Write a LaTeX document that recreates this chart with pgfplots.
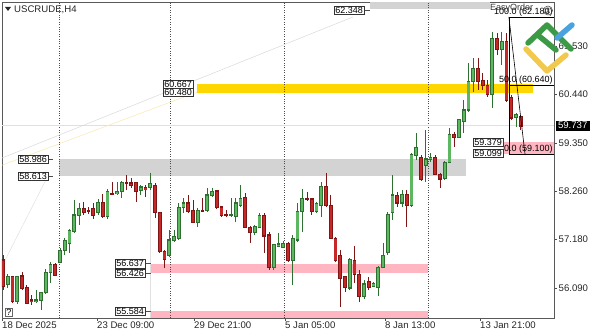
\documentclass[border=0pt]{standalone}
\usepackage{pgfplots}
\pgfplotsset{compat=1.18}
\usepackage{pgfplotstable}
\usepackage{fontspec}
\setmainfont{Liberation Sans}
\newcommand\lf{\fontsize{9}{10.5}\selectfont}
\newcommand\tf{\fontsize{9.6}{11}\selectfont}
\definecolor{gfill}{HTML}{5DB760}
\definecolor{gedge}{HTML}{2E7030}
\definecolor{rfill}{HTML}{C62828}
\definecolor{redge}{HTML}{7F1515}
\definecolor{bandgrey}{HTML}{D3D3D3}
\definecolor{gold}{HTML}{FFD700}
\definecolor{pinkb}{HTML}{FFB6C1}
\definecolor{logogreen}{HTML}{3C9A47}
\definecolor{logoyellow}{HTML}{F2C94C}
\definecolor{logoblue}{HTML}{4AA3DF}

\pgfplotstableread{
i o h l c
2 56.16 56.40 56.09 56.34
4 55.78 56.36 55.73 56.34
8 55.78 56.05 55.75 55.82
9 55.82 56.00 55.60 55.98
10 55.98 56.52 55.95 56.43
11 56.43 56.67 56.20 56.61
13 56.67 56.99 56.65 56.94
14 56.94 57.21 56.83 57.15
15 57.10 57.42 56.88 57.39
16 57.35 58.07 57.33 57.73
17 57.71 58.00 57.51 57.87
21 57.78 58.09 57.73 58.02
23 57.69 58.31 57.64 58.25
25 58.22 58.47 58.18 58.25
26 58.25 58.49 58.11 58.45
30 58.29 58.40 58.18 58.36
32 58.34 58.67 58.29 58.43
36 56.83 57.39 56.79 57.17
37 57.15 57.39 57.12 57.24
38 57.21 58.00 57.17 57.89
39 57.89 58.11 57.78 58.00
42 57.57 57.89 57.46 57.84
44 57.84 58.34 57.80 58.18
45 58.16 58.34 58.13 58.25
49 57.71 58.11 57.69 57.73
50 57.69 58.11 57.57 58.00
51 57.95 58.40 57.91 58.11
54 57.33 57.51 57.28 57.48
55 57.46 57.78 57.46 57.73
58 56.56 57.08 56.49 57.06
59 57.03 57.33 57.01 57.08
60 57.01 57.15 56.99 57.10
62 56.70 57.28 56.16 57.21
63 57.17 58.00 57.12 57.80
64 57.80 58.31 57.35 58.11
67 57.80 58.02 57.78 57.98
68 57.95 58.47 57.69 58.38
74 56.09 56.76 56.05 56.74
77 55.89 56.27 55.84 56.18
79 56.13 56.23 56.11 56.20
80 56.11 56.58 55.91 56.56
81 56.56 57.10 56.54 56.83
82 56.88 57.80 56.83 57.75
83 57.78 58.63 57.62 58.18
85 58.00 58.29 57.91 58.20
87 57.95 59.12 57.91 59.08
88 59.06 59.57 58.97 59.24
90 58.85 59.64 58.47 58.99
91 58.99 59.12 58.92 59.03
94 58.54 58.94 58.52 58.92
95 58.92 59.69 58.90 59.53
97 59.48 59.89 59.46 59.87
98 59.84 60.31 59.57 60.09
99 60.09 61.15 60.04 60.72
100 60.72 61.26 60.49 61.03
104 60.43 61.84 60.13 61.69
106 61.46 61.84 61.10 61.62
109 59.93 60.02 59.71 59.98
}\greentab

\pgfplotstableread{
i o h l c
1 56.72 56.83 56.05 56.13
3 56.34 56.36 55.75 55.78
5 56.36 56.45 56.05 56.07
6 56.11 56.16 55.73 55.75
7 55.82 55.93 55.71 55.78
12 56.61 56.65 56.36 56.38
18 57.87 58.02 57.73 57.78
19 57.84 57.91 57.75 57.82
20 57.87 58.00 57.64 57.73
22 58.02 58.20 57.66 57.69
24 58.22 58.47 58.18 58.20
27 58.45 58.63 58.29 58.43
28 58.45 58.56 58.34 58.40
29 58.45 58.47 58.02 58.25
31 58.34 58.40 58.13 58.31
33 58.40 58.45 57.66 57.78
34 57.78 57.80 56.88 56.90
35 56.90 56.94 56.54 56.72
40 58.00 58.18 57.78 57.80
41 57.84 58.07 57.55 57.57
43 57.84 58.11 57.80 57.82
46 58.27 58.29 57.87 57.89
47 57.91 57.93 57.69 57.71
48 57.73 57.84 57.69 57.71
52 58.13 58.22 57.44 57.44
53 57.46 57.48 57.10 57.33
56 57.71 57.78 56.88 57.26
57 57.28 57.35 56.49 56.56
61 57.10 57.12 56.67 56.70
65 58.11 58.25 58.04 58.09
66 58.09 58.11 57.73 57.80
69 58.38 58.67 57.91 57.95
70 57.95 58.18 57.21 57.21
71 57.21 57.24 56.67 56.70
72 56.81 56.94 55.66 56.31
73 56.34 56.36 56.00 56.11
75 56.70 57.03 56.20 56.40
76 56.40 56.49 55.78 55.89
78 56.23 56.34 56.05 56.11
84 58.16 58.25 57.91 58.00
86 58.20 58.29 57.46 57.95
89 59.03 59.08 58.49 58.52
92 59.03 59.08 58.63 58.65
93 58.65 58.67 58.34 58.54
96 59.53 59.60 59.26 59.48
101 61.03 61.26 60.54 60.72
102 60.76 60.92 60.54 60.63
103 60.65 60.76 60.38 60.43
105 61.69 61.82 61.33 61.46
107 61.62 61.82 60.27 60.31
108 60.36 60.43 59.87 59.91
110 59.95 59.98 59.64 59.73
}\redtab

\pgfplotsset{
  candle/.style 2 args={draw=none, mark=none, forget plot,
    error bars/.cd, y dir=both, y explicit, error mark=none,
    error bar style={line width=#1, draw=#2, solid, line cap=butt}},
}
\tikzset{lbl/.style={draw=black!80, fill=white, line width=0.4pt, inner sep=1pt, font=\lf}}

\begin{document}
\begin{tikzpicture}
\begin{axis}[
  name=ax,
  scale only axis, width=552pt, height=316pt,
  xmin=0.79, xmax=117, ymin=55.416, ymax=62.516,
  clip mode=individual,
  axis line style={draw=black!65, line width=0.5pt},
  xtick={0.79,20.79,41.21,60.37,81.42,101.42},
  xticklabels={18 Dec 2025,23 Dec 09:00,29 Dec 21:00,5 Jan 05:00,8 Jan 13:00,13 Jan 21:00},
  ytick={56.09,57.18,58.26,59.35,60.44,61.53},
  yticklabels={56.090,57.180,58.260,59.350,60.440,61.530},
  xtick pos=bottom, ytick pos=right, yticklabel pos=right,
  tick align=outside, major tick length=3pt,
  tick style={black!70, line width=0.5pt},
  xticklabel style={anchor=north west, inner sep=0pt, yshift=-1pt, font=\tf, text=black!85},
  yticklabel style={anchor=west, inner sep=0pt, xshift=1.5pt, font=\tf, text=black!85},
]
% zones
\fill[bandgrey] (axis cs:78.26,62.348) rectangle (axis cs:103.5,62.516);
\fill[gold] (axis cs:41.84,60.480) rectangle (axis cs:112.6,60.667);
\fill[bandgrey] (axis cs:12.79,58.613) rectangle (axis cs:98.47,58.986);
\fill[pinkb] (axis cs:32.1,56.426) rectangle (axis cs:90.4,56.637);
\fill[pinkb] (axis cs:32.1,55.416) rectangle (axis cs:90.4,55.584);
\fill[pinkb] (axis cs:106.3,59.099) rectangle (axis cs:117,59.379);
% separators and faint lines
\draw[black!70, line width=0.5pt, dash pattern=on 1pt off 1.4pt] (axis cs:12.79,55.416) -- (axis cs:12.79,62.516);
\draw[black!70, line width=0.5pt, dash pattern=on 1pt off 1.4pt] (axis cs:36.16,55.416) -- (axis cs:36.16,62.516);
\draw[black!70, line width=0.5pt, dash pattern=on 1pt off 1.4pt] (axis cs:60.16,55.416) -- (axis cs:60.16,62.516);
\draw[black!70, line width=0.5pt, dash pattern=on 1pt off 1.4pt] (axis cs:90.47,55.416) -- (axis cs:90.47,62.516);
\draw[black!12, line width=0.6pt] (axis cs:0.79,59.737) -- (axis cs:117,59.737);
\draw[black!15, line width=0.5pt] (axis cs:0.79,59.01) -- (axis cs:74.68,62.18);
\draw[logoyellow!45, line width=0.5pt] (axis cs:0.79,58.85) -- (axis cs:41.84,60.49);
\draw[black!12, line width=0.5pt] (axis cs:0.79,56.58) -- (axis cs:10.47,58.61);
\draw[black!12, line width=0.5pt] (axis cs:32.1,58.61) -- (axis cs:32.1,55.416);

% wicks
\addplot[candle={0.8pt}{gedge}] table[x=i, y expr=(\thisrow{h}+\thisrow{l})/2, y error expr=(\thisrow{h}-\thisrow{l})/2] {\greentab};
\addplot[candle={0.8pt}{redge}] table[x=i, y expr=(\thisrow{h}+\thisrow{l})/2, y error expr=(\thisrow{h}-\thisrow{l})/2] {\redtab};
% body outlines
\addplot[candle={3.8pt}{gedge}] table[x=i, y expr=(\thisrow{o}+\thisrow{c})/2, y error expr=abs(\thisrow{c}-\thisrow{o})/2+0.012] {\greentab};
\addplot[candle={3.8pt}{redge}] table[x=i, y expr=(\thisrow{o}+\thisrow{c})/2, y error expr=abs(\thisrow{c}-\thisrow{o})/2+0.012] {\redtab};
% body fills
\addplot[candle={2.2pt}{gfill}] table[x=i, y expr=(\thisrow{o}+\thisrow{c})/2, y error expr={max(abs(\thisrow{c}-\thisrow{o})/2-0.012,0)}] {\greentab};
\addplot[candle={2.2pt}{rfill}] table[x=i, y expr=(\thisrow{o}+\thisrow{c})/2, y error expr={max(abs(\thisrow{c}-\thisrow{o})/2-0.012,0)}] {\redtab};

% fibonacci
\draw[black, line width=0.6pt] (axis cs:107.5,62.18) -- (axis cs:107.5,59.10);
\draw[black, line width=0.6pt] (axis cs:107.5,62.18) -- (axis cs:117,62.18);
\draw[black, line width=0.6pt] (axis cs:107.5,60.64) -- (axis cs:117,60.64);
\draw[black, line width=0.6pt] (axis cs:107.5,59.10) -- (axis cs:117,59.10);
\draw[black, line width=0.6pt] (axis cs:107.5,62.18) -- (axis cs:110.9,59.10);
\node[anchor=south east, inner sep=0.6pt, font=\lf] at (axis cs:116.9,62.18) {100.0 (62.180)};
\node[anchor=south east, inner sep=0.6pt, font=\lf] at (axis cs:116.9,60.64) {50.0 (60.640)};
\node[anchor=south east, inner sep=0.6pt, font=\lf] at (axis cs:116.9,59.10) {0.0 (59.100)};

% price labels
\draw[black!70, line width=0.4pt] (axis cs:77.0,62.336) -- (axis cs:78.26,62.336);
\node[lbl, anchor=east] at (axis cs:77.0,62.336) {62.348};
\node[lbl, anchor=east] at (axis cs:41.0,60.674) {60.667};
\node[lbl, anchor=east] at (axis cs:41.0,60.483) {60.480};
\draw[black!70, line width=0.4pt] (axis cs:10.47,58.988) -- (axis cs:11.6,58.988);
\draw[black!70, line width=0.4pt] (axis cs:10.47,58.606) -- (axis cs:11.6,58.606);
\node[lbl, anchor=east] at (axis cs:10.47,58.988) {58.986};
\node[lbl, anchor=east] at (axis cs:10.47,58.606) {58.613};
\draw[black!70, line width=0.4pt] (axis cs:30.9,56.64) -- (axis cs:32.1,56.64);
\draw[black!70, line width=0.4pt] (axis cs:30.9,56.416) -- (axis cs:32.1,56.416);
\draw[black!70, line width=0.4pt] (axis cs:30.9,55.562) -- (axis cs:32.1,55.562);
\node[lbl, anchor=east] at (axis cs:30.9,56.64) {56.637};
\node[lbl, anchor=east] at (axis cs:30.9,56.416) {56.426};
\node[lbl, anchor=east] at (axis cs:30.9,55.562) {55.584};
\node[lbl, anchor=east] at (axis cs:106.26,59.36) {59.379};
\node[lbl, anchor=east] at (axis cs:106.26,59.12) {59.099};
% current price
\node[fill=black, text=white, font=\tf, inner xsep=2.3pt, inner ysep=1.6pt, anchor=west, xshift=1.5pt] at (axis cs:117,59.737) {59.737};
\end{axis}

% header, logo and widgets (decoration)
\begin{scope}[shift={(ax.north west)}, xshift=-2pt, yshift=2pt, x=1pt, y=-1pt]
  \fill[black!85] (5,7) -- (11,7) -- (8,11) -- cycle;
  \node[anchor=west, inner sep=0pt, font=\tf, text=black!85] at (14,9.5) {USCRUDE,H4};
  \node[anchor=west, inner sep=0pt, font=\lf, text=black!80] at (490,8) {EasyOrder};
  \draw[black!75, line width=0.5pt] (548,10.5) circle (4.5pt);
  \draw[black!75, line width=0.5pt] (548,9) circle (1.3pt) (548,12.2) circle (1.5pt);
  \node[draw=black!60, fill=white, inner sep=1pt, font=\lf] at (9,312) {?};
  % logo
  \draw[logoyellow, line width=5.5pt, line cap=round, line join=round] (526,49) -- (547,71) -- (566,55);
  \draw[logogreen, line width=5.5pt, line cap=round, line join=round] (528,43) -- (547,25) -- (571,49);
  \draw[logogreen, line width=5.5pt, line cap=round] (539,36) -- (556,50);
  \draw[logoblue, line width=5.5pt, line cap=round] (557,38) -- (572,25);
\end{scope}
\path (ax.south west) ++(-2pt,-18pt) rectangle ++(598pt,336pt);
\end{tikzpicture}
\end{document}
